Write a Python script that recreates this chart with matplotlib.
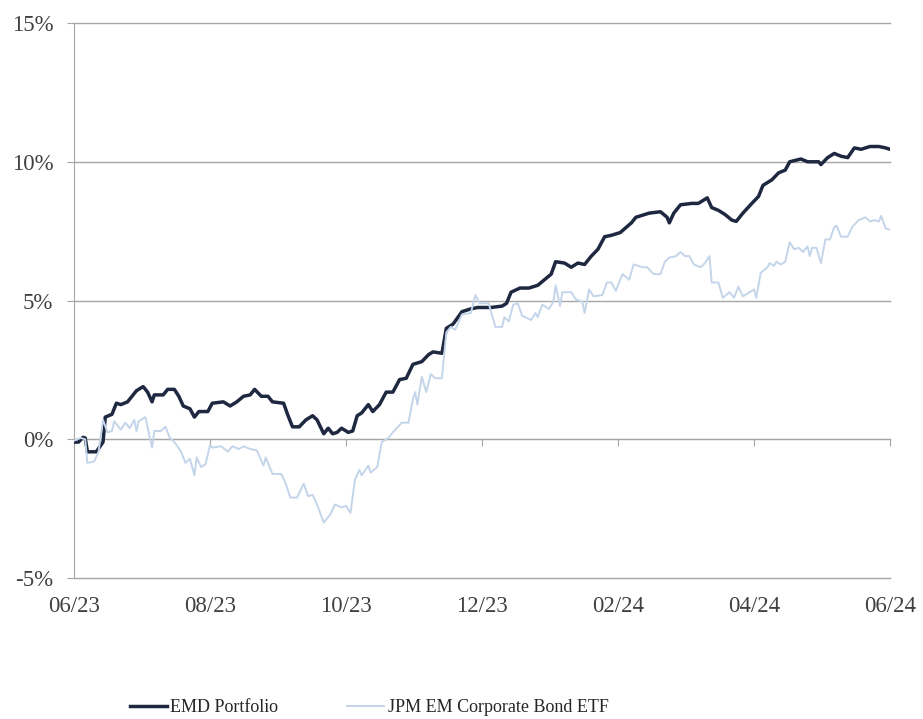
import numpy as np
import pandas as pd
import matplotlib
matplotlib.use("Agg")
import matplotlib.pyplot as plt
import matplotlib.dates as mdates

# dados (dias desde 30/06/2023, retorno acumulado em %)
inicio = pd.Timestamp("2023-06-30")

emd_dias = [0, 2, 4, 5, 6, 10, 13, 14, 17, 19, 21, 24, 28, 31, 33, 35, 36, 40, 42, 45,
            47, 49, 52, 54, 56, 60, 62, 67, 70, 73, 76, 79, 81, 84, 87, 89, 94, 96, 98, 101,
            104, 107, 109, 112, 114, 116, 118, 120, 123, 125, 127, 129, 132, 134, 137, 140, 143, 146, 149, 152,
            156, 159, 161, 165, 167, 170, 174, 178, 181, 187, 192, 194, 196, 200, 204, 208, 211, 214, 216, 220,
            223, 226, 229, 232, 235, 238, 241, 245, 250, 252, 258, 263, 266, 267, 269, 272, 277, 280, 284, 286,
            289, 292, 295, 297, 300, 304, 307, 309, 313, 316, 319, 321, 326, 329, 334, 335, 338, 341, 344, 347,
            350, 353, 357, 361, 364, 366]
emd_ret = [-0.1, -0.1, 0.07, 0.05, -0.45, -0.45, -0.1, 0.8, 0.9, 1.3, 1.25, 1.35, 1.75, 1.9, 1.7, 1.35, 1.6, 1.6, 1.8, 1.8,
           1.55, 1.2, 1.1, 0.8, 1.0, 1.0, 1.3, 1.35, 1.2, 1.35, 1.55, 1.6, 1.8, 1.55, 1.55, 1.35, 1.3, 0.85, 0.45, 0.45,
           0.7, 0.85, 0.7, 0.2, 0.4, 0.2, 0.25, 0.4, 0.25, 0.3, 0.85, 0.95, 1.25, 1.0, 1.25, 1.7, 1.7, 2.15, 2.2, 2.7,
           2.8, 3.05, 3.15, 3.1, 4.0, 4.15, 4.6, 4.7, 4.75, 4.75, 4.8, 4.9, 5.3, 5.45, 5.45, 5.55, 5.75, 5.95, 6.4, 6.35,
           6.2, 6.35, 6.3, 6.6, 6.85, 7.3, 7.35, 7.45, 7.8, 8.0, 8.15, 8.2, 8.0, 7.8, 8.15, 8.45, 8.5, 8.5, 8.7, 8.35,
           8.25, 8.1, 7.9, 7.85, 8.15, 8.5, 8.75, 9.15, 9.35, 9.6, 9.7, 10.0, 10.1, 10.0, 10.0, 9.9, 10.15, 10.3, 10.2, 10.15,
           10.5, 10.45, 10.55, 10.55, 10.5, 10.45]

etf_dias = [0, 3, 5, 6, 9, 11, 13, 15, 17, 18, 21, 23, 25, 27, 28, 29, 32, 35, 36, 39,
            41, 43, 45, 48, 50, 52, 54, 55, 57, 59, 61, 62, 66, 69, 71, 74, 76, 79, 82, 85,
            86, 89, 93, 95, 97, 100, 103, 105, 107, 109, 112, 115, 117, 120, 122, 124, 126, 128, 129, 132,
            133, 136, 138, 141, 143, 147, 150, 152, 153, 154, 156, 158, 160, 162, 165, 167, 169, 171, 174, 178,
            180, 182, 186, 187, 189, 192, 193, 195, 197, 199, 201, 205, 207, 208, 210, 213, 215, 216, 218, 219,
            223, 225, 228, 229, 231, 233, 237, 239, 241, 243, 246, 249, 251, 255, 257, 260, 263, 265, 267, 270,
            272, 274, 276, 278, 281, 283, 285, 286, 289, 291, 294, 296, 298, 300, 303, 305, 306, 308, 311, 312,
            314, 315, 317, 319, 321, 323, 325, 327, 329, 330, 331, 333, 335, 337, 339, 341, 342, 344, 347, 349,
            352, 355, 357, 359, 361, 362, 364, 366]
etf_ret = [-0.05, 0.05, 0.0, -0.85, -0.8, -0.45, 0.7, 0.25, 0.3, 0.65, 0.35, 0.6, 0.4, 0.7, 0.3, 0.65, 0.8, -0.3, 0.3, 0.3,
           0.45, 0.05, -0.1, -0.45, -0.85, -0.7, -1.3, -0.65, -1.0, -0.9, -0.2, -0.3, -0.25, -0.45, -0.25, -0.35, -0.25, -0.35, -0.4, -0.95,
           -0.65, -1.25, -1.25, -1.6, -2.1, -2.1, -1.6, -2.05, -2.0, -2.35, -3.0, -2.7, -2.35, -2.45, -2.4, -2.65, -1.45, -1.1, -1.3, -0.95,
           -1.2, -1.0, -0.1, 0.05, 0.25, 0.6, 0.6, 1.45, 1.7, 1.25, 2.25, 1.7, 2.35, 2.2, 2.2, 3.85, 4.05, 3.95, 4.5, 4.55,
           5.2, 4.9, 4.9, 4.6, 4.05, 4.05, 4.4, 4.25, 4.85, 4.9, 4.45, 4.3, 4.55, 4.4, 4.85, 4.7, 4.95, 5.55, 4.8, 5.3,
           5.3, 5.05, 4.95, 4.55, 5.4, 5.15, 5.2, 5.65, 5.65, 5.35, 5.95, 5.75, 6.3, 6.2, 6.2, 5.95, 5.95, 6.4, 6.55, 6.6,
           6.75, 6.6, 6.6, 6.3, 6.2, 6.35, 6.6, 5.65, 5.65, 5.1, 5.3, 5.1, 5.5, 5.15, 5.3, 5.4, 5.1, 6.0, 6.2, 6.35,
           6.25, 6.4, 6.3, 6.4, 7.1, 6.85, 6.9, 6.75, 6.95, 6.6, 6.9, 6.9, 6.35, 7.2, 7.2, 7.65, 7.7, 7.3, 7.3, 7.65,
           7.9, 8.0, 7.85, 7.9, 7.85, 8.05, 7.6, 7.55]

datas_ticks = ["2023-06-30", "2023-08-30", "2023-10-30", "2023-12-30",
               "2024-02-29", "2024-04-30", "2024-06-30"]
y_ticks = [-5, 0, 5, 10, 15]

COR_EMD = "#1e2840"
COR_ETF = "#c4d5ea"
CINZA = "#a6a6a6"

plt.rcParams["font.family"] = ["Liberation Serif", "DejaVu Serif"]

emd_x = inicio + pd.to_timedelta(emd_dias, unit="D")
etf_x = inicio + pd.to_timedelta(etf_dias, unit="D")
ticks = pd.to_datetime(datas_ticks)

fig = plt.figure(figsize=(9.23, 7.19), dpi=100)
ax = fig.add_axes([0.0802, 0.196, 0.8841, 0.772])

ax.plot(emd_x, emd_ret, color=COR_EMD, lw=2.5, label="EMD Portfolio", zorder=3)
ax.plot(etf_x, etf_ret, color=COR_ETF, lw=1.4, label="JPM EM Corporate Bond ETF", zorder=4)

ax.set_ylim(-5, 15)
ax.set_xlim(ticks[0], ticks[-1])
ax.set_yticks(y_ticks)
ax.set_yticklabels([f"{v}%" for v in y_ticks])
ax.yaxis.grid(True, color=CINZA, lw=1.0)
ax.set_axisbelow(True)
for linha in ax.get_ygridlines():
    linha.set_clip_on(False)

for s in ["top", "right"]:
    ax.spines[s].set_visible(False)
ax.spines["left"].set_color(CINZA)
ax.spines["bottom"].set_position(("data", 0))
ax.spines["bottom"].set_color(CINZA)

ax.set_xticks(ticks)
ax.tick_params(axis="x", direction="out", length=5, color=CINZA, labelbottom=False)
ax.tick_params(axis="y", direction="out", length=5, color=CINZA, pad=10,
               labelsize=16.5, labelcolor="#404040")

# rótulos do eixo x ficam em baixo do gráfico
sec = ax.secondary_xaxis("bottom")
sec.set_xticks(ticks)
sec.xaxis.set_major_formatter(mdates.DateFormatter("%m/%y"))
sec.tick_params(length=0, pad=13, labelsize=16.5, labelcolor="#404040")
sec.spines["bottom"].set_visible(False)

fig.legend(loc="center", bbox_to_anchor=(0.40, 0.016), ncol=2, frameon=False,
           fontsize=13, handlelength=2.05, handletextpad=0.2, columnspacing=3.8,
           labelcolor="#262626")

fig.savefig("out.png", dpi=100)
